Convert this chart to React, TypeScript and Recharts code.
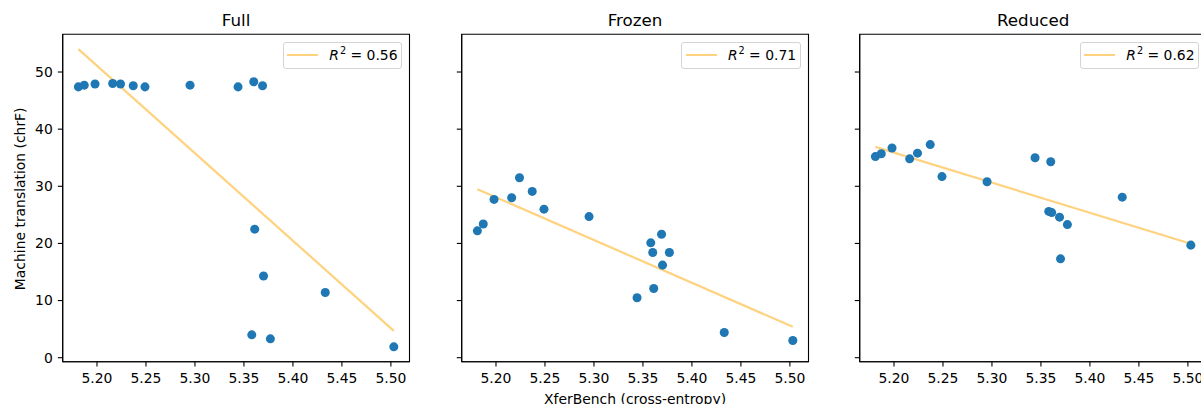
import React from 'react';
import { ScatterChart, Scatter, XAxis, YAxis, ZAxis, Legend, ReferenceArea } from 'recharts';

// XferBench cross-entropy for each model (shared by all three panels)
const xferBench = [5.181, 5.187, 5.198, 5.216, 5.224, 5.237, 5.249, 5.295, 5.344, 5.358, 5.360, 5.361, 5.369, 5.370, 5.377, 5.433, 5.503];
// Machine translation chrF per setting
const fullChrF = [47.4, 47.7, 47.9, 48.0, 47.9, 47.6, 47.4, 47.7, 47.4, 4.0, 48.3, 22.5, 47.6, 14.3, 3.3, 11.4, 1.9];
const frozenChrF = [22.2, 23.4, 27.7, 28.0, 31.5, 29.1, 26.0, 24.7, 10.5, 20.1, 18.4, 12.1, 21.6, 16.2, 18.4, 4.4, 3.0];
const reducedChrF = [35.2, 35.7, 36.7, 34.8, 35.8, 37.3, 31.7, 30.8, 35.0, 25.6, 34.3, 25.4, 24.6, 17.3, 23.3, 28.1, 19.7];
// Fit line endpoints
const fitX = [5.181, 5.503];
const fullFit = [54.0, 4.7];
const frozenFit = [29.5, 5.4];
const reducedFit = [36.9, 19.95];
const r2Labels = ['0.56', '0.71', '0.62'];
const panelTitles = ['Full', 'Frozen', 'Reduced'];
const xTicks = [5.2, 5.25, 5.3, 5.35, 5.4, 5.45, 5.5];
const yTicks = [0, 10, 20, 30, 40, 50];
const xDomain: [number, number] = [5.165, 5.519];
const yDomain: [number, number] = [-0.7, 56.6];

const FONT = '"DejaVu Sans", sans-serif';
const DOT = '#1f77b4';
const FIT = '#ffd27f';
const SPINE = { stroke: '#000', strokeWidth: 1.1 };

const W = 420;
const H = 404;
const margin = { top: 34.3, right: 10.5, bottom: 12.3, left: 12.7 };

const LegendBox = ({ r2 }: { r2: string }) => (
  <div
    style={{
      boxSizing: 'border-box',
      width: 119.6,
      height: 27.3,
      border: '1px solid #d4d4d4',
      borderRadius: 3,
      background: 'rgba(255,255,255,0.8)',
      position: 'relative',
      fontFamily: FONT,
      fontSize: 13.9,
      color: '#000',
    }}
  >
    <div style={{ position: 'absolute', left: 3.6, top: 11.3, width: 31, height: 2.1, background: FIT }} />
    <div style={{ position: 'absolute', left: 45.6, top: 3.5, whiteSpace: 'nowrap', lineHeight: '16px' }}>
      <span style={{ fontStyle: 'italic' }}>R</span>
      <span style={{ fontSize: 9.7, position: 'relative', top: -5.5, marginLeft: 1 }}>2</span>
      <span> = {r2}</span>
    </div>
  </div>
);

type PanelProps = {
  title: string;
  ys: number[];
  fit: number[];
  r2: string;
  left: number;
  yLabel?: boolean;
  xLabel?: boolean;
};

const Panel = ({ title, ys, fit, r2, left, yLabel, xLabel }: PanelProps) => {
  const points = xferBench.map((x, i) => ({ x, y: ys[i] }));
  const fitData = fitX.map((x, i) => ({ x, y: fit[i] }));
  const tickStyle = { fill: '#000', fontSize: 13.9, fontFamily: FONT };
  return (
    <div style={{ position: 'absolute', left, top: 0, width: W, height: H }}>
      <ScatterChart width={W} height={H} margin={margin}>
        <XAxis
          xAxisId="b"
          dataKey="x"
          type="number"
          domain={xDomain}
          ticks={xTicks}
          interval={0}
          allowDataOverflow
          height={30}
          tickSize={4.9}
          tickMargin={7}
          tick={tickStyle}
          tickLine={SPINE}
          axisLine={SPINE}
          tickFormatter={(v: number) => v.toFixed(2)}
          label={
            xLabel
              ? {
                  content: (p: any) => {
                    const vb = p.viewBox || {};
                    return (
                      <text
                        x={vb.x + vb.width / 2}
                        y={vb.y + 41.8}
                        textAnchor="middle"
                        fontFamily={FONT}
                        fontSize={13.9}
                        fill="#000"
                      >
                        XferBench (cross-entropy)
                      </text>
                    );
                  },
                }
              : undefined
          }
        />
        <YAxis
          yAxisId="l"
          dataKey="y"
          type="number"
          domain={yDomain}
          ticks={yTicks}
          interval={0}
          allowDataOverflow
          width={50}
          tickSize={4.9}
          tickMargin={5}
          tick={tickStyle}
          tickLine={SPINE}
          axisLine={SPINE}
          tickFormatter={(v: number) => (yLabel ? String(v) : '')}
          label={
            yLabel
              ? {
                  content: (p: any) => {
                    const vb = p.viewBox || {};
                    const cx = vb.x + 12.8;
                    const cy = vb.y + vb.height / 2 + 0.8;
                    return (
                      <text
                        x={cx}
                        y={cy}
                        transform={`rotate(-90, ${cx}, ${cy})`}
                        textAnchor="middle"
                        fontFamily={FONT}
                        fontSize={13.9}
                        fill="#000"
                      >
                        Machine translation (chrF)
                      </text>
                    );
                  },
                }
              : undefined
          }
        />
        <ZAxis range={[84, 84]} />
        <ReferenceArea
          xAxisId="b"
          yAxisId="l"
          x1={xDomain[0]}
          x2={xDomain[1]}
          y1={yDomain[0]}
          y2={yDomain[1]}
          fill="none"
          fillOpacity={0}
          stroke="#000"
          strokeWidth={1.1}
          strokeOpacity={1}
          ifOverflow="visible"
          label={{
            content: (p: any) => {
              const vb = p.viewBox || {};
              return (
                <text
                  x={vb.x + vb.width / 2}
                  y={vb.y - 8}
                  textAnchor="middle"
                  fontFamily={FONT}
                  fontSize={16.7}
                  fill="#000"
                >
                  {title}
                </text>
              );
            },
          }}
        />
        <Scatter
          xAxisId="b"
          yAxisId="l"
          data={fitData}
          line={{ stroke: FIT, strokeWidth: 2.2 }}
          shape={() => <g />}
          isAnimationActive={false}
          legendType="line"
        />
        <Scatter
          xAxisId="b"
          yAxisId="l"
          data={points}
          fill={DOT}
          isAnimationActive={false}
        />
        <Legend
          layout="horizontal"
          verticalAlign="middle"
          align="center"
          content={() => <LegendBox r2={r2} />}
          wrapperStyle={{ position: 'absolute', left: 282.7, top: 42, width: 120, height: 27.3, margin: 0, padding: 0 }}
        />
      </ScatterChart>
    </div>
  );
};

export default function App() {
  return (
    <div
      style={{
        position: 'absolute',
        left: 0,
        top: 0,
        width: 1201,
        height: 404,
        overflow: 'hidden',
        background: '#fff',
        fontFamily: FONT,
      }}
    >
      <Panel title={panelTitles[0]} ys={fullChrF} fit={fullFit} r2={r2Labels[0]} left={0} yLabel />
      <Panel title={panelTitles[1]} ys={frozenChrF} fit={frozenFit} r2={r2Labels[1]} left={398.6} xLabel />
      <Panel title={panelTitles[2]} ys={reducedChrF} fit={reducedFit} r2={r2Labels[2]} left={797} />
    </div>
  );
}
